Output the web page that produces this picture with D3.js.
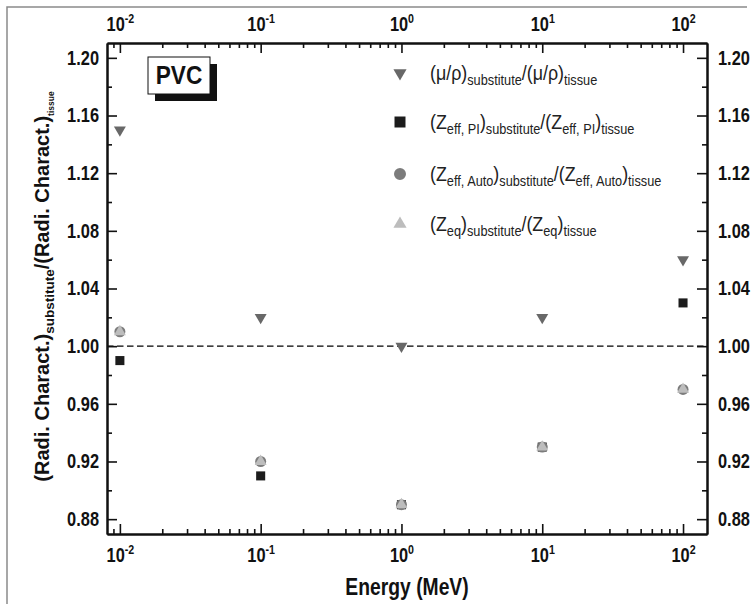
<!DOCTYPE html>
<html>
<head>
<meta charset="utf-8">
<script src="https://cdn.jsdelivr.net/npm/d3@7"></script>
<style>
  html, body { margin: 0; padding: 0; background: #fff; }
  svg { display: block; }
</style>
</head>
<body>
<div id="chart"></div>
<script>
// PVC: ratio of radiation characteristics (substitute / tissue) vs energy

const energies = [0.01, 0.1, 1, 10, 100];
const muRho    = [1.15, 1.02, 1.00, 1.02, 1.06];
const zeffPI   = [0.99, 0.91, 0.89, 0.93, 1.03];
const zeffAuto = [1.01, 0.92, 0.89, 0.93, 0.97];
const zeq      = [1.01, 0.92, 0.89, 0.93, 0.97];

const yTicks = [0.88, 0.92, 0.96, 1.00, 1.04, 1.08, 1.12, 1.16, 1.20];
const yMinor = [0.90, 0.94, 0.98, 1.02, 1.06, 1.10, 1.14, 1.18];
const xTicks = [0.01, 0.1, 1, 10, 100];

// legend labels: [text, isSubscript]
const legendLabels = [
  [["(μ/ρ)", 0], ["substitute", 1], ["/(μ/ρ)", 0], ["tissue", 1]],
  [["(Z", 0], ["eff, PI", 1], [")", 0], ["substitute", 1], ["/(Z", 0], ["eff, PI", 1], [")", 0], ["tissue", 1]],
  [["(Z", 0], ["eff, Auto", 1], [")", 0], ["substitute", 1], ["/(Z", 0], ["eff, Auto", 1], [")", 0], ["tissue", 1]],
  [["(Z", 0], ["eq", 1], [")", 0], ["substitute", 1], ["/(Z", 0], ["eq", 1], [")", 0], ["tissue", 1]]
];
// y title: [text, isSubscript, own font size]
const yTitle = [["(Radi. Charact.)", 0], ["substitute", 1, 13.5], ["/(Radi. Charact.)", 0], ["tissue", 1, 8.5]];

const series = [
  { values: muRho,    shape: "down", color: "#686868" },
  { values: zeffPI,   shape: "square", color: "#1c1c1c" },
  { values: zeffAuto, shape: "circle", color: "#7c7c7c" },
  { values: zeq,      shape: "up", color: "#bdbdbd" }
];

const width = 756;
const height = 604;
const margin = { top: 43, right: 49, bottom: 70, left: 107 };
const font = "'Liberation Sans', Arial, sans-serif";
const squeeze = 0.82; // the original uses a narrow face

const svg = d3.select("#chart").append("svg")
  .attr("width", width)
  .attr("height", height)
  .style("font-family", font);

// outer frame (top + left only visible)
svg.append("path")
  .attr("d", "M7,604 L7,7 L747,7")
  .attr("fill", "none")
  .attr("stroke", "#8a8a8a")
  .attr("stroke-width", 1.5);

const x = d3.scaleLog()
  .domain([0.0081, 148])
  .range([margin.left, width - margin.right]);

const y = d3.scaleLinear()
  .domain([0.8697, 1.2103])
  .range([height - margin.bottom, margin.top]);

// minor x ticks 2..9 x 10^k inside the domain
const xMinor = [];
for (let k = -3; k <= 2; k++) {
  for (let m = 2; m <= 9; m++) {
    const v = m * Math.pow(10, k);
    if (v > x.domain()[0] && v < x.domain()[1]) xMinor.push(v);
  }
}

// symbol helper
function symbolFor(shape, size) {
  if (shape === "square") return d3.symbol(d3.symbolSquare, size)();
  if (shape === "circle") return d3.symbol(d3.symbolCircle, size)();
  return d3.symbol(d3.symbolTriangle, size)();
}
const markerSize = { down: 62, square: 82, circle: 95, up: 62 };

// dashed reference line at 1.00
svg.append("line")
  .attr("x1", x.range()[0])
  .attr("x2", x.range()[1])
  .attr("y1", y(1))
  .attr("y2", y(1))
  .attr("stroke", "#000")
  .attr("stroke-width", 1.3)
  .attr("stroke-dasharray", "6.5,3.5");

// data points
series.forEach(s => {
  svg.append("g").selectAll("path")
    .data(energies.map((e, i) => ({ e, v: s.values[i] })))
    .enter()
    .append("path")
    .attr("d", symbolFor(s.shape, markerSize[s.shape]))
    .attr("transform", d => `translate(${x(d.e)},${y(d.v)})` + (s.shape === "down" ? " rotate(180)" : ""))
    .attr("fill", s.color);
});

// axes
function styleAxis(g) {
  g.select(".domain").attr("stroke-width", 2).attr("stroke", "#111");
  g.selectAll(".tick line").attr("stroke-width", 1.6).attr("stroke", "#111");
  g.selectAll(".tick text")
    .attr("font-family", font)
    .attr("font-weight", "bold")
    .attr("font-size", 20)
    .attr("fill", "#111")
    .each(function() {
      const t = d3.select(this);
      const tx = +t.attr("x") || 0;
      t.attr("x", 0).attr("transform", `translate(${tx},0) scale(${squeeze},1)`);
    });
}

function powerLabels(g) {
  g.selectAll(".tick text").each(function(d) {
    const t = d3.select(this);
    t.text(null);
    t.append("tspan").text("10");
    t.append("tspan")
      .attr("dy", -8)
      .attr("font-size", 13)
      .text(Math.round(Math.log10(d)));
  });
}

const yFmt = d => d3.format(".2f")(d);

// left
svg.append("g")
  .attr("transform", `translate(${margin.left},0)`)
  .call(d3.axisLeft(y).tickValues(yTicks).tickFormat(yFmt).tickSizeInner(-10).tickSizeOuter(0).tickPadding(8))
  .call(styleAxis);
svg.append("g")
  .attr("transform", `translate(${margin.left},0)`)
  .call(d3.axisLeft(y).tickValues(yMinor).tickFormat("").tickSizeInner(-5).tickSizeOuter(0))
  .call(styleAxis);

// right
svg.append("g")
  .attr("transform", `translate(${width - margin.right},0)`)
  .call(d3.axisRight(y).tickValues(yTicks).tickFormat(yFmt).tickSizeInner(-10).tickSizeOuter(0).tickPadding(11))
  .call(styleAxis);
svg.append("g")
  .attr("transform", `translate(${width - margin.right},0)`)
  .call(d3.axisRight(y).tickValues(yMinor).tickFormat("").tickSizeInner(-5).tickSizeOuter(0))
  .call(styleAxis);

// bottom
svg.append("g")
  .attr("transform", `translate(0,${height - margin.bottom})`)
  .call(d3.axisBottom(x).tickValues(xTicks).tickSizeInner(-10).tickSizeOuter(0).tickPadding(14))
  .call(styleAxis)
  .call(powerLabels);
svg.append("g")
  .attr("transform", `translate(0,${height - margin.bottom})`)
  .call(d3.axisBottom(x).tickValues(xMinor).tickFormat("").tickSizeInner(-5).tickSizeOuter(0))
  .call(styleAxis);

// top
svg.append("g")
  .attr("transform", `translate(0,${margin.top})`)
  .call(d3.axisTop(x).tickValues(xTicks).tickSizeInner(-10).tickSizeOuter(0).tickPadding(12))
  .call(styleAxis)
  .call(powerLabels);
svg.append("g")
  .attr("transform", `translate(0,${margin.top})`)
  .call(d3.axisTop(x).tickValues(xMinor).tickFormat("").tickSizeInner(-5).tickSizeOuter(0))
  .call(styleAxis);

// text with subscripts
function richText(sel, parts, mainSize, subSize, shift) {
  let prevSub = 0;
  parts.forEach(([txt, sub, size]) => {
    const ts = sel.append("tspan").text(txt).attr("font-size", size || (sub ? subSize : mainSize));
    if (sub && !prevSub) ts.attr("dy", shift);
    if (!sub && prevSub) ts.attr("dy", -shift);
    prevSub = sub;
  });
}

// axis titles
svg.append("text")
  .attr("transform", `translate(${(x.range()[0] + x.range()[1]) / 2},595) scale(0.84,1)`)
  .attr("text-anchor", "middle")
  .attr("font-weight", "bold")
  .attr("font-size", 23)
  .attr("fill", "#111")
  .text("Energy (MeV)");

const yt = svg.append("text")
  .attr("transform", "translate(49,286.5) rotate(-90)")
  .attr("text-anchor", "middle")
  .attr("font-weight", "bold")
  .attr("fill", "#111");
richText(yt, yTitle, 20, 13.5, 5);

// PVC label box with shadow
const box = { x: 148, y: 57, w: 62, h: 37 };
svg.append("rect")
  .attr("x", box.x + 7).attr("y", box.y + 7)
  .attr("width", box.w).attr("height", box.h)
  .attr("fill", "#111");
svg.append("rect")
  .attr("x", box.x).attr("y", box.y)
  .attr("width", box.w).attr("height", box.h)
  .attr("fill", "#fff")
  .attr("stroke", "#111")
  .attr("stroke-width", 1);
svg.append("text")
  .attr("transform", `translate(${box.x + box.w / 2},${box.y + 27}) scale(0.87,1)`)
  .attr("text-anchor", "middle")
  .attr("font-weight", "bold")
  .attr("font-size", 26)
  .attr("fill", "#111")
  .text("PVC");

// legend
const legendX = 400;
const legendY = [73, 122, 174, 224];
const legendSize = { down: 75, square: 121, circle: 113, up: 75 };
series.forEach((s, i) => {
  svg.append("path")
    .attr("d", symbolFor(s.shape, legendSize[s.shape]))
    .attr("transform", `translate(${legendX},${legendY[i]})` + (s.shape === "down" ? " rotate(180)" : ""))
    .attr("fill", s.color);
  const t = svg.append("text")
    .attr("transform", `translate(${legendX + 30},${legendY[i] + 7}) scale(0.85,1)`)
    .attr("fill", "#222");
  richText(t, legendLabels[i], 21, 15, 5);
});
</script>
</body>
</html>
